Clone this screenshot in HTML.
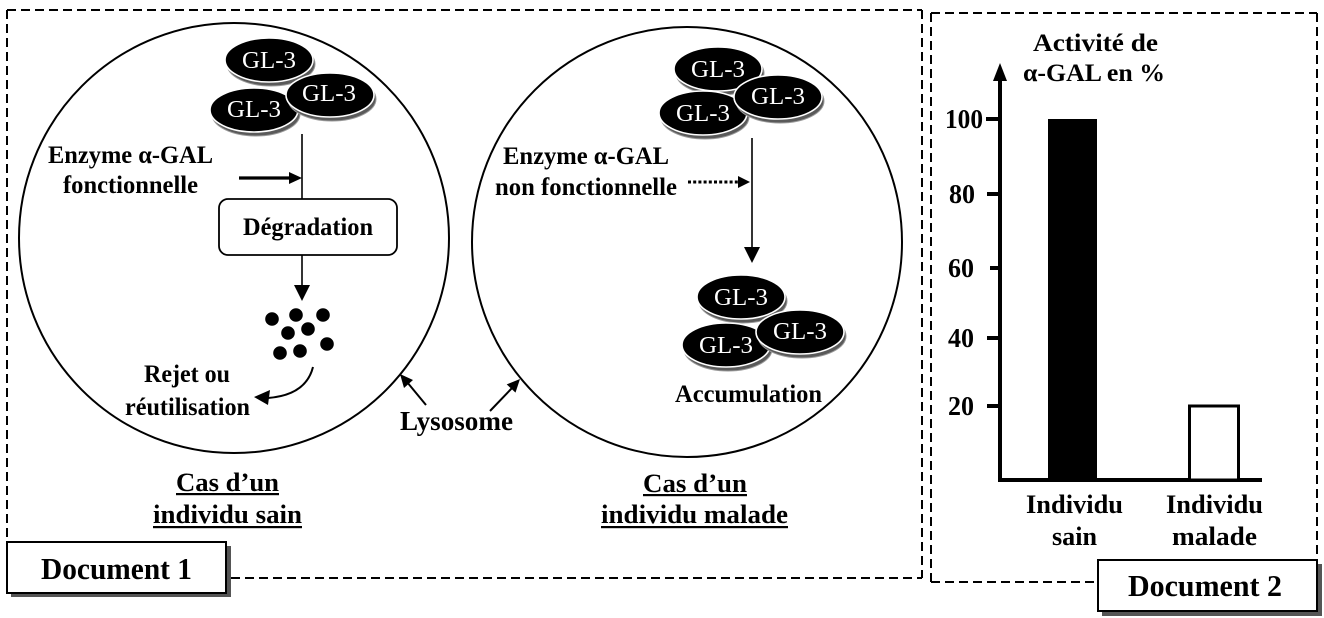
<!DOCTYPE html>
<html><head><meta charset="utf-8"><style>
html,body{margin:0;padding:0;background:#fff;}
svg{display:block;}
text{font-family:"Liberation Serif","Times New Roman",serif;font-weight:bold;fill:#000;}
.gl{font-weight:normal;fill:#fff;font-size:24px;}
</style></head><body>
<svg width="1324" height="618" viewBox="0 0 1324 618" xmlns="http://www.w3.org/2000/svg">
<rect width="1324" height="618" fill="#fff"/>
<defs>
<g id="disc">
<ellipse cx="2" cy="4" rx="44" ry="22" fill="#5a5a5a" stroke="#9a9a9a" stroke-width="1"/>
<ellipse cx="0" cy="0" rx="44" ry="22" fill="#000" stroke="#fff" stroke-width="1.6"/>
</g>
</defs>

<g stroke="#000" stroke-width="2" stroke-dasharray="9 5" fill="none">
<path d="M7 10 H922"/>
<path d="M922 10 V578"/>
<path d="M231 578 H922"/>
<path d="M7 10 V542"/>
<path d="M931 13 H1317"/>
<path d="M931 13 V582"/>
<path d="M931 582 H1098"/>
<path d="M1317 13 V561"/>
</g>

<circle cx="234" cy="238" r="215" fill="none" stroke="#000" stroke-width="2"/>
<circle cx="687" cy="242" r="215" fill="none" stroke="#000" stroke-width="2"/>

<use href="#disc" x="269" y="60"/>
<use href="#disc" x="254" y="110"/>
<use href="#disc" x="330" y="95"/>
<text class="gl" x="242" y="68" textLength="54" lengthAdjust="spacingAndGlyphs">GL-3</text>
<text class="gl" x="227" y="117" textLength="54" lengthAdjust="spacingAndGlyphs">GL-3</text>
<text class="gl" x="302" y="101" textLength="54" lengthAdjust="spacingAndGlyphs">GL-3</text>

<line x1="302" y1="134" x2="302" y2="199" stroke="#000" stroke-width="1.6"/>
<line x1="239" y1="178" x2="292" y2="178" stroke="#000" stroke-width="3.2"/>
<polygon points="289,172 302,178 289,184" fill="#000"/>
<rect x="219" y="199" width="178" height="56" rx="9" fill="#fff" stroke="#000" stroke-width="1.8"/>
<text x="243" y="235" font-size="25" textLength="130" lengthAdjust="spacingAndGlyphs">Dégradation</text>
<line x1="302" y1="255" x2="302" y2="288" stroke="#000" stroke-width="1.6"/>
<polygon points="294,285 310,285 302,301" fill="#000"/>

<text x="48" y="163" font-size="25" textLength="165" lengthAdjust="spacingAndGlyphs">Enzyme α-GAL</text>
<text x="63" y="193" font-size="25" textLength="135" lengthAdjust="spacingAndGlyphs">fonctionnelle</text>

<g fill="#000">
<circle cx="272" cy="319" r="6.8"/>
<circle cx="296" cy="315" r="6.8"/>
<circle cx="323" cy="315" r="6.8"/>
<circle cx="288" cy="333" r="6.8"/>
<circle cx="308" cy="329" r="6.8"/>
<circle cx="280" cy="353" r="6.8"/>
<circle cx="300" cy="351" r="6.8"/>
<circle cx="327" cy="344" r="6.8"/>
</g>
<path d="M313 367 Q306 395 268 398" fill="none" stroke="#000" stroke-width="2"/>
<polygon points="254,397 270,390 268,405" fill="#000"/>
<text x="144" y="382" font-size="25" textLength="86" lengthAdjust="spacingAndGlyphs">Rejet ou</text>
<text x="125" y="415" font-size="25" textLength="125" lengthAdjust="spacingAndGlyphs">réutilisation</text>

<line x1="426" y1="405" x2="407" y2="382" stroke="#000" stroke-width="2"/>
<polygon points="400,374 413,380 404,388" fill="#000"/>
<line x1="490" y1="411" x2="512" y2="388" stroke="#000" stroke-width="2"/>
<polygon points="520,379 515.5,392.6 506.7,384.4" fill="#000"/>
<text x="400" y="430" font-size="27" textLength="113" lengthAdjust="spacingAndGlyphs">Lysosome</text>

<text x="176" y="491" font-size="26" textLength="103" lengthAdjust="spacingAndGlyphs">Cas d’un</text>
<rect x="176" y="493" width="103" height="2.2" fill="#000"/>
<text x="153" y="523" font-size="26" textLength="149" lengthAdjust="spacingAndGlyphs">individu sain</text>
<rect x="153" y="526" width="149" height="2.2" fill="#000"/>

<rect x="11" y="546" width="220" height="51" fill="#555"/>
<rect x="7" y="542" width="219" height="51" fill="#fff" stroke="#000" stroke-width="2"/>
<text x="41" y="579" font-size="31" textLength="151" lengthAdjust="spacingAndGlyphs">Document 1</text>

<use href="#disc" x="718" y="69"/>
<use href="#disc" x="703" y="113"/>
<use href="#disc" x="778" y="97"/>
<text class="gl" x="691" y="77" textLength="54" lengthAdjust="spacingAndGlyphs">GL-3</text>
<text class="gl" x="676" y="121" textLength="54" lengthAdjust="spacingAndGlyphs">GL-3</text>
<text class="gl" x="751" y="104" textLength="54" lengthAdjust="spacingAndGlyphs">GL-3</text>

<text x="503" y="164" font-size="25" textLength="166" lengthAdjust="spacingAndGlyphs">Enzyme α-GAL</text>
<text x="495" y="195" font-size="25" textLength="182" lengthAdjust="spacingAndGlyphs">non fonctionnelle</text>
<line x1="688" y1="182" x2="739" y2="182" stroke="#000" stroke-width="3" stroke-dasharray="3 2.2"/>
<polygon points="738,176 750,182 738,188" fill="#000"/>

<line x1="752" y1="138" x2="752" y2="250" stroke="#000" stroke-width="1.6"/>
<polygon points="744,247 760,247 752,263" fill="#000"/>

<use href="#disc" x="741" y="297"/>
<use href="#disc" x="726" y="345"/>
<use href="#disc" x="800" y="332"/>
<text class="gl" x="714" y="305" textLength="54" lengthAdjust="spacingAndGlyphs">GL-3</text>
<text class="gl" x="699" y="353" textLength="54" lengthAdjust="spacingAndGlyphs">GL-3</text>
<text class="gl" x="773" y="339" textLength="54" lengthAdjust="spacingAndGlyphs">GL-3</text>

<text x="675" y="402" font-size="25" textLength="147" lengthAdjust="spacingAndGlyphs">Accumulation</text>

<text x="643" y="492" font-size="26" textLength="104" lengthAdjust="spacingAndGlyphs">Cas d’un</text>
<rect x="643" y="494" width="104" height="2.2" fill="#000"/>
<text x="601" y="523" font-size="26" textLength="187" lengthAdjust="spacingAndGlyphs">individu malade</text>
<rect x="601" y="526" width="187" height="2.2" fill="#000"/>

<text x="1033" y="51" font-size="25" textLength="125" lengthAdjust="spacingAndGlyphs">Activité de</text>
<text x="1023" y="81" font-size="25" textLength="142" lengthAdjust="spacingAndGlyphs">α-GAL en %</text>
<line x1="1000" y1="76" x2="1000" y2="482" stroke="#000" stroke-width="4"/>
<polygon points="993,81 1007,81 1000,63" fill="#000"/>
<line x1="998" y1="480" x2="1262" y2="480" stroke="#000" stroke-width="4"/>
<g stroke="#000" stroke-width="4">
<line x1="986" y1="119" x2="1000" y2="119"/>
<line x1="987" y1="194" x2="1000" y2="194"/>
<line x1="990" y1="268" x2="1000" y2="268"/>
<line x1="987" y1="338" x2="1000" y2="338"/>
<line x1="987" y1="406" x2="1000" y2="406"/>
</g>
<text x="945" y="128" font-size="27" textLength="38" lengthAdjust="spacingAndGlyphs">100</text>
<text x="949" y="203" font-size="27" textLength="26" lengthAdjust="spacingAndGlyphs">80</text>
<text x="948" y="277" font-size="27" textLength="26" lengthAdjust="spacingAndGlyphs">60</text>
<text x="948" y="347" font-size="27" textLength="26" lengthAdjust="spacingAndGlyphs">40</text>
<text x="948" y="415" font-size="27" textLength="26" lengthAdjust="spacingAndGlyphs">20</text>

<rect x="1048" y="119" width="49" height="361" fill="#000"/>
<rect x="1189.5" y="406" width="49" height="74" fill="#fff" stroke="#000" stroke-width="3"/>

<text x="1026" y="513" font-size="26" textLength="97" lengthAdjust="spacingAndGlyphs">Individu</text>
<text x="1052" y="545" font-size="26" textLength="45" lengthAdjust="spacingAndGlyphs">sain</text>
<text x="1166" y="513" font-size="26" textLength="97" lengthAdjust="spacingAndGlyphs">Individu</text>
<text x="1172" y="545" font-size="26" textLength="85" lengthAdjust="spacingAndGlyphs">malade</text>

<rect x="1102" y="564" width="220" height="52" fill="#555"/>
<rect x="1098" y="560" width="219" height="51" fill="#fff" stroke="#000" stroke-width="2"/>
<text x="1128" y="596" font-size="31" textLength="154" lengthAdjust="spacingAndGlyphs">Document 2</text>
</svg>
</body></html>
